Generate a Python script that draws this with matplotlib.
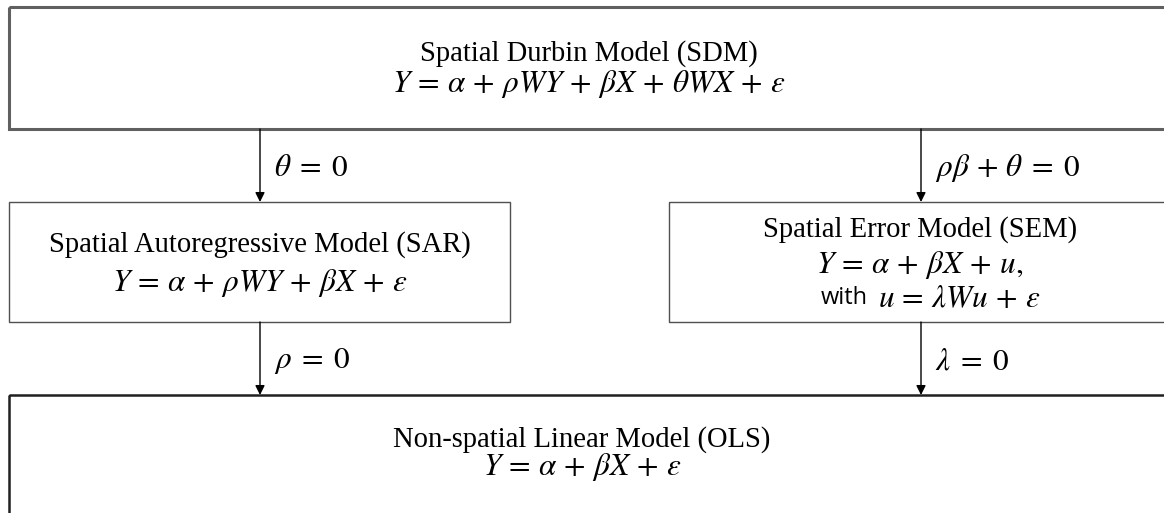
import matplotlib.pyplot as plt
from matplotlib.patches import Rectangle

plt.rcParams['mathtext.fontset'] = 'stix'

# Model boxes: names and equations
model_names = ["Spatial Durbin Model (SDM)",
               "Spatial Autoregressive Model (SAR)",
               "Spatial Error Model (SEM)",
               "Non-spatial Linear Model (OLS)"]
model_eqs = [r"$Y\,=\,\alpha\,+\,\rho WY\,+\,\beta X\,+\,\theta WX\,+\,\varepsilon$",
             r"$Y\,=\,\alpha\,+\,\rho WY\,+\,\beta X\,+\,\varepsilon$",
             r"$Y\,=\,\alpha\,+\,\beta X\,+\,u,$",
             r"$Y\,=\,\alpha\,+\,\beta X\,+\,\varepsilon$"]
sem_extra = ["with", r"$u\,=\,\lambda Wu\,+\,\epsilon$"]

# restrictions on arrows
restrictions = [r"$\theta\;=\;0$", r"$\rho\beta\,+\,\theta\;=\;0$",
                r"$\rho\;=\;0$", r"$\lambda\;=\;0$"]

fig = plt.figure(figsize=(11.64, 5.13), dpi=100)
ax = fig.add_axes([0, 0, 1, 1])
ax.set_xlim(0, 1164)
ax.set_ylim(513, 0)
ax.axis("off")

# boxes (x0, y0, x1, y1) in pixel space
boxes = [(9, 7, 1175, 129), (9, 202, 510, 322), (669, 202, 1175, 322), (9, 395, 1175, 530)]
box_lw = [2.2, 1.0, 1.0, 1.8]
box_col = ["#606060", "#505050", "#505050", "#202020"]
for (x0, y0, x1, y1), lw, c in zip(boxes, box_lw, box_col):
    ax.add_patch(Rectangle((x0, y0), x1 - x0, y1 - y0, fill=False,
                           edgecolor=c, linewidth=lw, clip_on=False))

serif = "Liberation Serif"
fs = 20.6
efs = 22.5
# titles and equations
ax.text(589, 54, model_names[0], ha="center", va="center", fontsize=fs, family=serif)
ax.text(589, 84, model_eqs[0], ha="center", va="center", fontsize=efs)
ax.text(260, 245, model_names[1], ha="center", va="center", fontsize=fs, family=serif)
ax.text(260, 283, model_eqs[1], ha="center", va="center", fontsize=efs)
ax.text(920, 230, model_names[2], ha="center", va="center", fontsize=fs, family=serif)
ax.text(920, 265, model_eqs[2], ha="center", va="center", fontsize=efs)
ax.text(868, 298, sem_extra[0], ha="right", va="center", fontsize=17, family="Open Sans")
ax.text(878, 298, sem_extra[1], ha="left", va="center", fontsize=efs)
ax.text(582, 440, model_names[3], ha="center", va="center", fontsize=fs, family=serif)
ax.text(582, 467, model_eqs[3], ha="center", va="center", fontsize=efs)

# arrows
arrows = [(260, 129, 202), (921, 129, 202), (260, 322, 395), (921, 322, 395)]
for (x, y0, y1), lab in zip(arrows, restrictions):
    ax.annotate("", xy=(x, y1), xytext=(x, y0),
                arrowprops=dict(arrowstyle="-|>", color="black", lw=1.0,
                                mutation_scale=14, shrinkA=0, shrinkB=0))
    ax.text(x + 14, (y0 + y1) / 2 + 2, lab, ha="left", va="center", fontsize=efs)

fig.savefig("out.png", dpi=100)
